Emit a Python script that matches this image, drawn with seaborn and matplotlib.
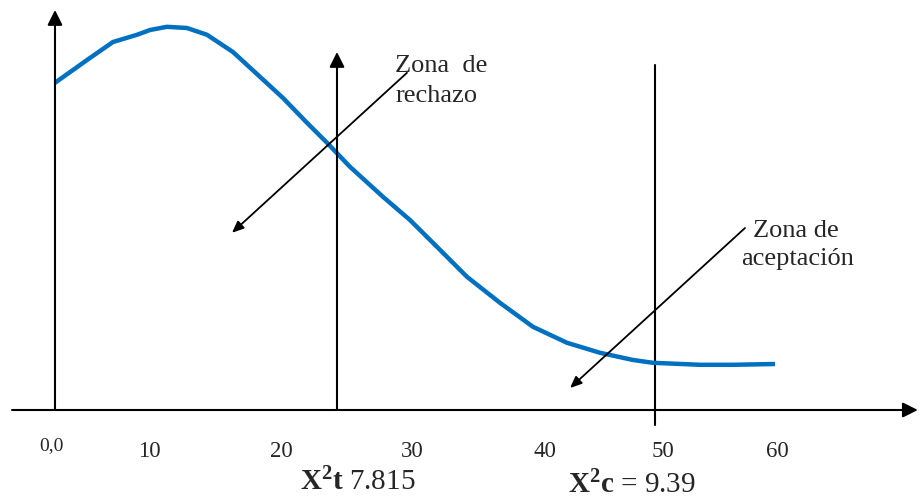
"""Chi-square decision diagram: zona de rechazo / zona de aceptacion"""

import matplotlib
matplotlib.use("Agg")
import matplotlib.pyplot as plt
import seaborn as sns
import pandas as pd

# curve (x in axis units, y in arbitrary height units)
curve_x = [0, 2.67, 4.83, 6.83, 7.92, 9.33, 11.0, 12.67, 14.83, 17.08, 19.0,
           21.0, 22.67, 24.58, 27.33, 29.58, 31.83, 34.33, 37.08, 39.83,
           42.67, 45.42, 48.17, 49.83, 53.75, 56.5, 60.0]
curve_y = [8.18, 8.75, 9.20, 9.38, 9.50, 9.58, 9.55, 9.38, 8.95, 8.33, 7.80,
           7.18, 6.68, 6.08, 5.33, 4.75, 4.08, 3.33, 2.68, 2.08, 1.68, 1.43,
           1.25, 1.18, 1.13, 1.13, 1.15]

tick_labels = ["10", "20", "30", "40", "50", "60"]
tick_pos = [7.83, 18.9, 29.8, 40.8, 50.7, 60.2]

x_tabla = 23.5    # X2 t line
x_calc = 50.0     # X2 c line
label_t = r"$\mathbf{X^2t}$ 7.815"
label_c = r"$\mathbf{X^2c}$ = 9.39"

df = pd.DataFrame({"x": curve_x, "y": curve_y})

sns.set_style("white")
plt.rcParams["font.family"] = ["Liberation Serif", "DejaVu Serif"]
plt.rcParams["mathtext.fontset"] = "custom"
plt.rcParams["mathtext.rm"] = "Liberation Serif"
plt.rcParams["mathtext.bf"] = "Liberation Serif:bold"

fig = plt.figure(figsize=(9.2, 5.04), dpi=100)
ax = fig.add_axes([0, 0, 1, 1])
ax.set_xlim(-4.583, 72.083)
ax.set_ylim(-2.35, 10.25)
ax.axis("off")

line = sns.lineplot(data=df, x="x", y="y", ax=ax, color="#0070C0",
                    linewidth=3.2, zorder=3)
ax.lines[-1].set_solid_joinstyle("round")
ax.lines[-1].set_solid_capstyle("butt")

big_head = dict(arrowstyle="-|>,head_length=0.9,head_width=0.45",
                color="black", lw=1.5, shrinkA=0, shrinkB=0)
small_head = dict(arrowstyle="-|>,head_length=0.7,head_width=0.3",
                  color="black", lw=1.3, shrinkA=0, shrinkB=0)

# axes
ax.annotate("", xy=(71.9, 0), xytext=(-3.58, 0), arrowprops=big_head)
ax.annotate("", xy=(0, 10.0), xytext=(0, 0), arrowprops=big_head)
ax.annotate("", xy=(x_tabla, 8.95), xytext=(x_tabla, 0), arrowprops=big_head)
ax.plot([x_calc, x_calc], [-0.375, 8.625], color="black", lw=1.5)

# zone pointers
ax.annotate("", xy=(14.75, 4.43), xytext=(29.33, 8.43), arrowprops=small_head)
ax.annotate("", xy=(42.92, 0.55), xytext=(57.5, 4.55), arrowprops=small_head)

ax.text(32.2, 8.45, "Zona  de", fontsize=19, ha="center", va="baseline")
ax.text(31.8, 7.7, "rechazo", fontsize=19, ha="center", va="baseline")
ax.text(61.7, 4.33, "Zona de", fontsize=19, ha="center", va="baseline")
ax.text(61.9, 3.63, "aceptación", fontsize=19, ha="center", va="baseline")

# tick labels
ax.text(-0.33, -1.0, "0,0", fontsize=14, ha="center", va="baseline")
for p, t in zip(tick_pos, tick_labels):
    ax.text(p, -1.175, t, fontsize=16.5, ha="center", va="baseline")

ax.text(25.25, -2.0, label_t, fontsize=21, ha="center", va="baseline")
ax.text(48.08, -2.075, label_c, fontsize=21, ha="center", va="baseline")

plt.savefig("out.png", dpi=100)
plt.close(fig)
